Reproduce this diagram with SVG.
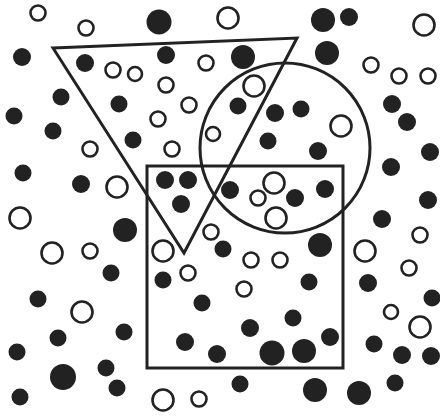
<svg xmlns="http://www.w3.org/2000/svg" width="440" height="416" viewBox="0 0 440 416">
<style>
.f{fill:#222}
.o{fill:none;stroke:#222;stroke-width:2.6}
.s{fill:none;stroke:#222;stroke-width:3}
</style>
<rect width="440" height="416" fill="#fff"/>
<g id="shapes">
<polygon class="s" points="53,48 297,38 184,253"/>
<circle class="s" cx="285" cy="148" r="85"/>
<rect class="s" x="147" y="166" width="196" height="202"/>
</g>
<g id="filled">
<circle class="f" cx="159" cy="22" r="12.5"/>
<circle class="f" cx="323" cy="20" r="12"/>
<circle class="f" cx="349" cy="17" r="9"/>
<circle class="f" cx="22" cy="57" r="9"/>
<circle class="f" cx="85" cy="63" r="9"/>
<circle class="f" cx="166" cy="55" r="9"/>
<circle class="f" cx="243" cy="57" r="12"/>
<circle class="f" cx="327" cy="53" r="12"/>
<circle class="f" cx="61" cy="97" r="8.5"/>
<circle class="f" cx="119" cy="104" r="8.5"/>
<circle class="f" cx="14" cy="116" r="8.5"/>
<circle class="f" cx="53" cy="131" r="8.5"/>
<circle class="f" cx="133" cy="140" r="8.5"/>
<circle class="f" cx="238" cy="106" r="8.5"/>
<circle class="f" cx="275" cy="113" r="9"/>
<circle class="f" cx="301" cy="109" r="8.5"/>
<circle class="f" cx="268" cy="141" r="8.5"/>
<circle class="f" cx="392" cy="104" r="9"/>
<circle class="f" cx="407" cy="122" r="9"/>
<circle class="f" cx="318" cy="151" r="9"/>
<circle class="f" cx="430" cy="152" r="9"/>
<circle class="f" cx="391" cy="167" r="9"/>
<circle class="f" cx="23" cy="173" r="8.5"/>
<circle class="f" cx="81" cy="184" r="9"/>
<circle class="f" cx="165" cy="180" r="9"/>
<circle class="f" cx="188" cy="180" r="9"/>
<circle class="f" cx="181" cy="204" r="9"/>
<circle class="f" cx="230" cy="190" r="9"/>
<circle class="f" cx="295" cy="198" r="9"/>
<circle class="f" cx="325" cy="189" r="9"/>
<circle class="f" cx="428" cy="200" r="9"/>
<circle class="f" cx="382" cy="219" r="9"/>
<circle class="f" cx="125" cy="230" r="12"/>
<circle class="f" cx="223" cy="249" r="8.5"/>
<circle class="f" cx="320" cy="245" r="12"/>
<circle class="f" cx="111" cy="273" r="8.5"/>
<circle class="f" cx="163" cy="280" r="8.5"/>
<circle class="f" cx="309" cy="282" r="8.5"/>
<circle class="f" cx="368" cy="283" r="9"/>
<circle class="f" cx="432" cy="298" r="8.5"/>
<circle class="f" cx="38" cy="299" r="8.5"/>
<circle class="f" cx="202" cy="303" r="8.5"/>
<circle class="f" cx="293" cy="318" r="8.5"/>
<circle class="f" cx="250" cy="328" r="9"/>
<circle class="f" cx="124" cy="332" r="8.5"/>
<circle class="f" cx="58" cy="338" r="8.5"/>
<circle class="f" cx="330" cy="337" r="9"/>
<circle class="f" cx="185" cy="342" r="9"/>
<circle class="f" cx="374" cy="344" r="8.5"/>
<circle class="f" cx="17" cy="352" r="8.5"/>
<circle class="f" cx="217" cy="354" r="9"/>
<circle class="f" cx="272" cy="353" r="12.5"/>
<circle class="f" cx="304" cy="351" r="12"/>
<circle class="f" cx="402" cy="355" r="9"/>
<circle class="f" cx="431" cy="356" r="9"/>
<circle class="f" cx="106" cy="368" r="8.5"/>
<circle class="f" cx="63" cy="377" r="13"/>
<circle class="f" cx="117" cy="388" r="8.5"/>
<circle class="f" cx="240" cy="384" r="8.5"/>
<circle class="f" cx="395" cy="383" r="8.5"/>
<circle class="f" cx="315" cy="390" r="12"/>
<circle class="f" cx="359" cy="393" r="12"/>
<circle class="f" cx="20" cy="397" r="8.5"/>
</g>
<g id="open">
<circle class="o" cx="38" cy="13" r="7.5"/>
<circle class="o" cx="86" cy="28" r="7.5"/>
<circle class="o" cx="228" cy="18" r="10.5"/>
<circle class="o" cx="424" cy="25" r="10.5"/>
<circle class="o" cx="113" cy="70" r="7.5"/>
<circle class="o" cx="135" cy="74" r="7"/>
<circle class="o" cx="206" cy="63" r="7.5"/>
<circle class="o" cx="371" cy="65" r="7.5"/>
<circle class="o" cx="399" cy="76" r="7.5"/>
<circle class="o" cx="428" cy="76" r="7.5"/>
<circle class="o" cx="166" cy="85" r="7.5"/>
<circle class="o" cx="254" cy="86" r="10.5"/>
<circle class="o" cx="189" cy="105" r="7.5"/>
<circle class="o" cx="158" cy="119" r="7.5"/>
<circle class="o" cx="341" cy="126" r="10.5"/>
<circle class="o" cx="213" cy="134" r="7"/>
<circle class="o" cx="90" cy="149" r="7.5"/>
<circle class="o" cx="172" cy="149" r="7.5"/>
<circle class="o" cx="117" cy="187" r="10.5"/>
<circle class="o" cx="274" cy="183" r="10.5"/>
<circle class="o" cx="258" cy="198" r="7.5"/>
<circle class="o" cx="20" cy="218" r="10.5"/>
<circle class="o" cx="276" cy="218" r="10.5"/>
<circle class="o" cx="211" cy="232" r="7.5"/>
<circle class="o" cx="420" cy="235" r="7.5"/>
<circle class="o" cx="52" cy="253" r="10.5"/>
<circle class="o" cx="90" cy="251" r="7.5"/>
<circle class="o" cx="163" cy="251" r="10.5"/>
<circle class="o" cx="365" cy="251" r="10.5"/>
<circle class="o" cx="251" cy="260" r="7.5"/>
<circle class="o" cx="280" cy="260" r="7.5"/>
<circle class="o" cx="409" cy="268" r="7.5"/>
<circle class="o" cx="188" cy="273" r="7.5"/>
<circle class="o" cx="244" cy="289" r="7.5"/>
<circle class="o" cx="82" cy="312" r="10.5"/>
<circle class="o" cx="391" cy="312" r="7"/>
<circle class="o" cx="420" cy="327" r="10.5"/>
<circle class="o" cx="163" cy="400" r="10.5"/>
<circle class="o" cx="199" cy="399" r="7.5"/>
</g>
</svg>
